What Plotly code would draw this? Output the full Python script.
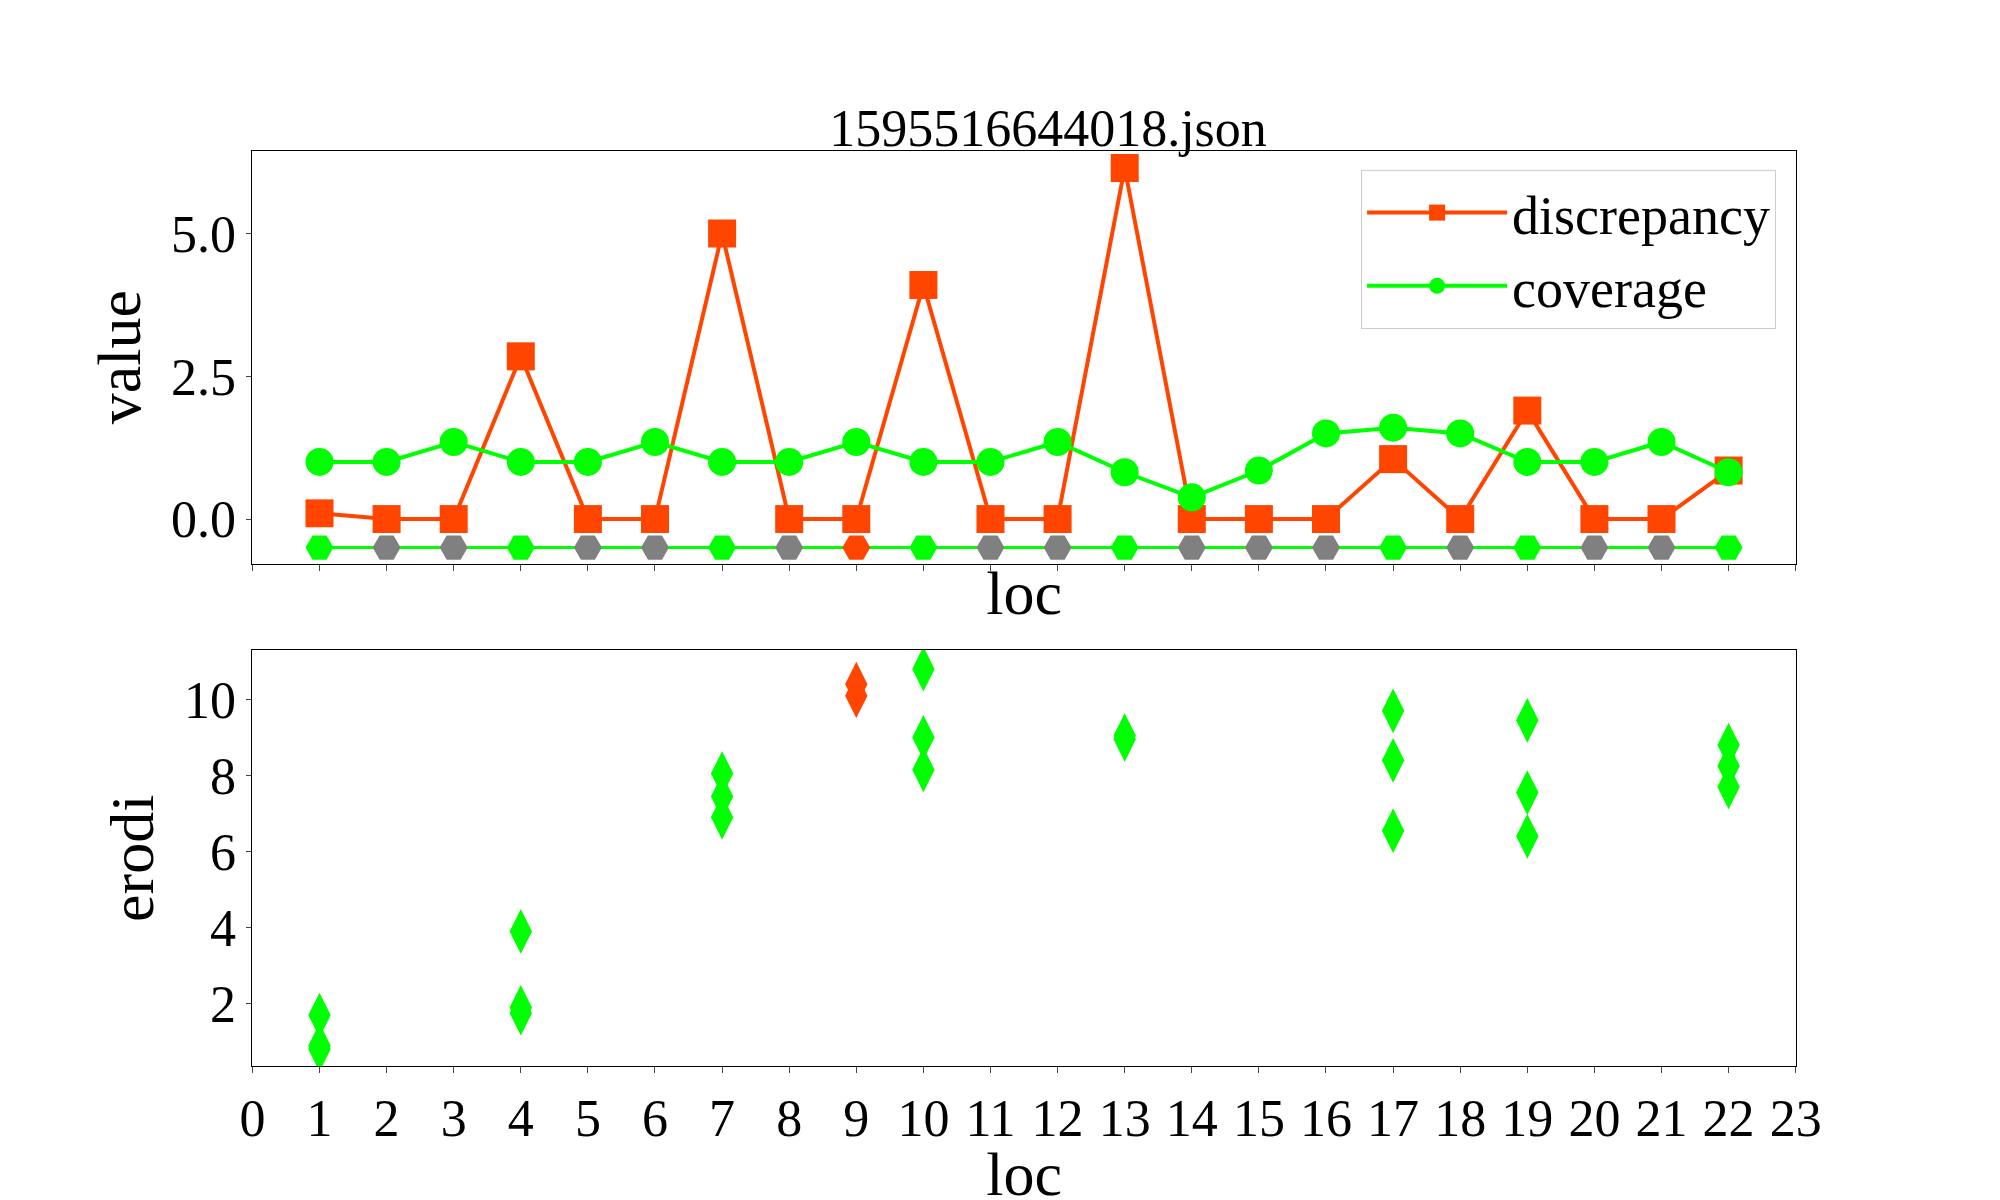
import plotly.graph_objects as go
from plotly.subplots import make_subplots

loc = list(range(1, 23))
discrepancy = [0.1, 0, 0, 2.85, 0, 0, 5.0, 0, 0, 4.1, 0, 0, 6.15, 0, 0, 0, 1.05, 0, 1.9, 0, 0, 0.85]
coverage = [1.0, 1.0, 1.35, 1.0, 1.0, 1.35, 1.0, 1.0, 1.35, 1.0, 1.0, 1.35, 0.82, 0.38, 0.85, 1.5, 1.6, 1.5, 1.0, 1.0, 1.35, 0.82]
status = ["g", "x", "x", "g", "x", "x", "g", "x", "o", "g", "x", "x", "g", "x", "x", "x", "g", "x", "g", "x", "x", "g"]

erodi_loc = [1, 1, 1, 4, 4, 4, 7, 7, 7, 9, 9, 10, 10, 10, 13, 13, 17, 17, 17, 19, 19, 19, 22, 22, 22]
erodi_val = [1.7, 0.9, 0.8, 3.9, 1.9, 1.75, 8.05, 7.45, 6.9, 10.4, 10.1, 10.8, 9.0, 8.15, 9.05, 8.95,
             9.7, 8.4, 6.55, 9.45, 7.55, 6.4, 8.8, 8.25, 7.7]

ORANGE = "#ff4500"
GREEN = "#00ff00"
cmap = {"g": GREEN, "x": "grey", "o": ORANGE}

fig = make_subplots(rows=2, cols=1, vertical_spacing=0.08)
fig.add_trace(go.Scatter(x=loc, y=discrepancy, mode="lines+markers", name="discrepancy",
                         line=dict(color=ORANGE, width=4),
                         marker=dict(symbol="square", size=28, color=ORANGE)), 1, 1)
fig.add_trace(go.Scatter(x=loc, y=coverage, mode="lines+markers", name="coverage",
                         line=dict(color=GREEN, width=4),
                         marker=dict(symbol="circle", size=28, color=GREEN)), 1, 1)
fig.add_trace(go.Scatter(x=loc, y=[-0.5] * len(loc), mode="lines+markers", showlegend=False,
                         line=dict(color=GREEN, width=3),
                         marker=dict(symbol="hexagon2", size=28, color=[cmap[s] for s in status])), 1, 1)

erodi_col = [ORANGE if l == 9 else GREEN for l in erodi_loc]
fig.add_trace(go.Scatter(x=erodi_loc, y=erodi_val, mode="markers", showlegend=False,
                         marker=dict(symbol="diamond-tall", size=32, color=erodi_col)), 2, 1)

font = dict(family="Liberation Serif", size=52, color="black")
axis_common = dict(range=[0, 23], tickmode="linear", tick0=0, dtick=1, showgrid=False, zeroline=False,
                   showline=True, mirror=True, linecolor="black", ticks="outside", ticklen=6)
fig.update_xaxes(**axis_common, showticklabels=False, title_text="loc", domain=[0.118, 0.905], row=1, col=1)
fig.update_xaxes(**axis_common, title_text="loc", domain=[0.118, 0.905], row=2, col=1)
fig.update_yaxes(range=[-0.78, 6.45], tickvals=[0, 2.5, 5], ticktext=["0.0", "2.5", "5.0"],
                 showgrid=False, zeroline=False, showline=True, mirror=True, linecolor="black",
                 ticks="outside", title_text="value", domain=[0.537, 0.881], row=1, col=1)
fig.update_yaxes(range=[0.35, 11.3], tickvals=[2, 4, 6, 8, 10], showgrid=False, zeroline=False,
                 showline=True, mirror=True, linecolor="black", ticks="outside",
                 title_text="erodi", domain=[0.118, 0.465], row=2, col=1)
fig.update_xaxes(title_standoff=0)
fig.update_yaxes(title_standoff=10)

fig.update_layout(width=2000, height=1200, plot_bgcolor="white", paper_bgcolor="white",
                  font=font, margin=dict(l=0, r=0, t=0, b=0),
                  title=dict(text="1595516644018.json", x=0.52, xanchor="center", y=0.885, yanchor="bottom",
                             font=dict(size=52)),
                  legend=dict(x=0.895, xanchor="right", y=0.865, yanchor="top", bordercolor="#cccccc",
                              borderwidth=1, bgcolor="white", font=dict(size=54), itemwidth=140,
                              tracegroupgap=20))
fig.write_html("out.html")
